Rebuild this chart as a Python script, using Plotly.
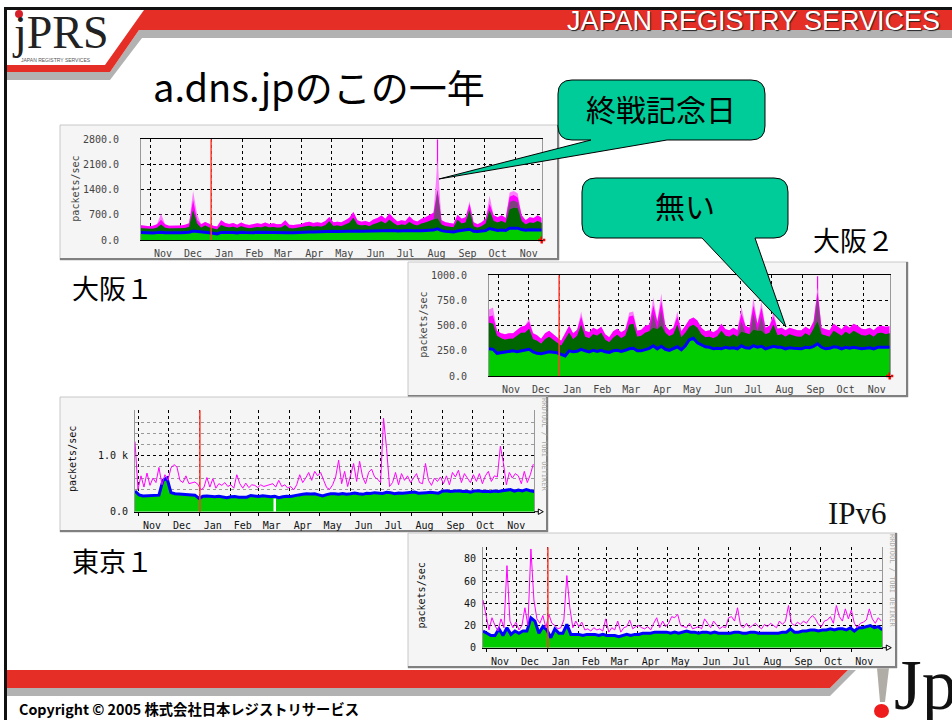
import pandas as pd
import plotly.graph_objects as go

# ---------- text ----------
MONTHS = ["Nov","Dec","Jan","Feb","Mar","Apr","May","Jun","Jul","Aug","Sep","Oct","Nov"]
MONTH_STARTS = ["2004-11-01","2004-12-01","2005-01-01","2005-02-01","2005-03-01","2005-04-01","2005-05-01",
                "2005-06-01","2005-07-01","2005-08-01","2005-09-01","2005-10-01","2005-11-01"]
MONTH_MIDS = ["2004-11-14","2004-12-14","2005-01-14","2005-02-13","2005-03-14","2005-04-14","2005-05-14",
              "2005-06-14","2005-07-14","2005-08-14","2005-09-14","2005-10-14","2005-11-14"]
YEAR_MARK = "2005-01-01"

# ---------- Osaka 1 ----------
O1_AVG = [210,200,190,195,205,215,200,195,195,205,205,210,215,250,235,210,205,200,190,170,
          210,215,205,210,195,215,210,200,205,215,215,220,210,215,205,210,225,205,200,210,
          215,220,225,225,230,225,240,250,240,235,240,250,255,265,250,245,250,245,260,265,
          270,265,275,265,250,260,255,265,255,245,255,265,270,275,310,260,240,230,220,250,
          265,270,300,245,235,250,260,320,285,265,280,265,330,340,330,290,270,285,280,290,280]
O1_UPPER = [330,315,310,315,340,430,340,320,315,325,325,335,360,830,460,340,400,350,310,290,
            420,370,350,370,335,380,345,325,340,360,345,380,345,360,340,345,420,330,320,340,
            345,380,395,370,385,370,410,520,390,400,385,430,480,620,430,400,415,385,440,470,
            520,460,560,470,400,430,415,500,430,400,460,490,540,570,600,430,385,370,355,560,
            460,490,830,385,340,385,460,830,530,490,530,470,850,900,880,530,430,490,475,530,475]
O1_MAGENTA = [410,395,385,395,440,560,440,395,395,410,405,425,465,1110,560,435,500,450,395,375,
              550,470,445,470,425,490,435,415,435,465,445,490,445,465,435,445,550,425,415,435,
              445,490,510,475,495,475,530,640,495,510,495,550,620,780,550,510,530,495,570,610,
              680,590,740,610,515,550,530,660,550,515,590,630,700,760,1390,550,495,475,455,700,
              590,630,1000,495,435,495,590,1000,690,630,690,610,1200,1250,1180,690,550,630,610,690,610]
O1_PINK_IDX = [5,13,14,74,82,87,92,93,94]
O1_PINK_VAL = [740,1360,720,2220,1080,1230,1320,1360,1300]
O1_PURPLE_IDX = [74,92,93,94]
O1_PURPLE_VAL = [1390,1060,1100,1040]
O1_SPIKE_IDX, O1_SPIKE_VAL = 74, 2800

# ---------- Osaka 2 ----------
O2_AVG = [270,265,225,230,235,240,250,240,250,255,265,240,225,220,230,240,235,230,215,200,
          250,240,245,265,250,240,255,245,255,240,235,250,255,245,255,270,275,250,250,265,
          275,300,270,295,265,255,270,290,260,300,360,375,330,310,290,285,270,275,270,285,
          275,280,270,300,280,275,300,285,295,270,285,295,285,285,270,280,275,270,270,285,
          280,295,320,285,270,275,290,285,270,285,275,285,280,270,275,280,270,285,285,285,285]
O2_UPPER = [530,520,400,375,360,370,370,400,430,430,470,365,350,320,365,390,360,335,300,365,
            430,365,400,510,390,375,415,400,430,360,335,380,410,375,400,510,520,390,400,430,
            445,480,465,500,430,395,415,510,385,430,490,510,480,415,385,390,375,395,450,400,
            390,415,390,440,430,415,460,450,450,415,430,510,405,415,390,415,400,390,390,425,
            400,465,540,415,400,390,450,425,400,440,415,450,430,405,400,415,390,425,430,415,425]
O2_MAGENTA = [590,600,450,425,415,425,425,455,490,500,540,425,405,370,425,450,415,385,350,425,
              500,425,460,590,450,435,480,460,490,415,385,445,470,435,460,590,600,450,460,500,
              510,700,540,740,500,455,480,590,445,500,560,580,550,480,445,455,435,460,520,465,
              455,480,455,620,500,480,700,520,680,480,500,590,470,480,455,480,465,455,455,490,
              465,540,840,480,465,455,520,490,465,510,480,520,500,470,465,480,455,490,500,490,495]
O2_PINK_IDX = [0,1,10,23,35,36,41,43,47,63,66,68,71,82]
O2_PINK_VAL = [660,680,570,640,630,640,780,820,640,690,780,740,640,880]
O2_PURPLE_IDX = [41,43,63,66,68,82]
O2_PURPLE_VAL = [620,650,540,620,590,790]
O2_SPIKE_IDX, O2_SPIKE_VAL = 82, 990

# ---------- Tokyo 1 ----------
T1_AVG = [370,300,280,285,285,285,295,560,600,340,320,315,310,310,305,295,240,275,280,270,
          265,275,265,250,265,270,260,255,260,290,285,270,285,280,265,275,250,265,275,270,
          290,300,310,320,315,320,300,280,305,320,320,310,325,310,320,335,320,310,330,325,
          340,335,325,345,340,320,335,330,340,345,350,330,330,340,345,335,330,365,375,360,
          365,375,360,365,350,370,375,360,365,355,370,360,375,380,395,365,385,370,395,375,360]
T1_MAX = [1250,400,640,440,690,470,600,520,790,480,660,560,780,840,800,560,520,640,500,520,
          530,490,390,430,610,440,590,420,500,470,520,450,480,420,660,500,420,510,430,480,
          470,430,480,450,470,490,500,440,560,450,480,420,450,390,480,660,520,600,700,560,
          720,640,700,560,430,400,480,620,920,500,720,450,640,860,540,900,620,500,700,760,
          620,580,520,1670,1130,450,520,700,480,680,560,640,520,600,680,520,500,860,560,470,
          600,540,620,500,640,480,700,620,740,520,680,600,520,660,540,680,500,640,720,540,
          640,620,1170,880,480,700,600,680,640,500,720,520,660,850]
T1_GAP_DATE, T1_GAP_TOP = "2005-03-17", 235

# ---------- IPv6 ----------
V6_AVG = [15,13,11,11,17,11,18,12,15,13,15,15,27,24,13,19,16,9,17,13,
          13,21,12,12,12,11,12,12,12,11,12,11,11,11,10,11,12,11,12,12,
          13,13,13,14,14,14,14,13,14,13,14,15,14,14,13,14,14,13,14,13,
          13,13,13,14,14,13,13,14,14,13,13,13,13,13,13,14,14,17,14,14,
          15,15,16,16,15,16,16,17,16,17,17,16,18,15,18,18,19,20,18,19,16]
V6_MAX = [43,28,16,27,20,15,26,18,74,24,18,23,16,20,36,20,89,43,26,22,
          29,18,30,22,20,17,18,25,65,36,18,24,19,23,16,17,15,18,16,17,
          15,26,14,18,16,24,14,18,19,25,17,19,20,18,17,19,16,22,27,18,
          24,19,22,28,27,30,20,19,18,22,17,18,19,17,26,22,18,24,20,17,
          19,18,27,28,24,36,20,18,22,18,20,22,19,17,21,19,22,20,18,24,
          21,24,38,22,20,23,21,24,22,26,29,26,21,19,24,25,28,22,38,28,
          24,35,26,34,22,18,22,23,25,35,26,22,27,24]

W, H = 952, 720
def X(p): return p / W
def Y(p): return 1 - p / H
def path(points, close=True):
    s = "M " + " L ".join(f"{X(a):.5f},{Y(b):.5f}" for a, b in points)
    return s + (" Z" if close else "")
def rounded_callout(x0, y0, x1, y1, r, tail):
    a, tip, b = tail
    P = lambda x, y: f"{X(x):.5f},{Y(y):.5f}"
    return (f"M {P(x0+r,y0)} L {P(x1-r,y0)} Q {P(x1,y0)} {P(x1,y0+r)} L {P(x1,y1-r)} Q {P(x1,y1)} {P(x1-r,y1)} "
            f"L {P(b,y1)} L {P(*tip)} L {P(a,y1)} L {P(x0+r,y1)} Q {P(x0,y1)} {P(x0,y1-r)} L {P(x0,y0+r)} Q {P(x0,y0)} {P(x0+r,y0)} Z")

RED, GRAY, TEAL = "#e52e26", "#b2b2b2", "#00cc99"
MONO = "DejaVu Sans Mono"
CJK = "Noto Sans CJK JP"

shapes, annos = [], []
def poly(points, fill, line=None, layer="below", width=1):
    shapes.append(dict(type="path", path=path(points), xref="paper", yref="paper", fillcolor=fill, layer=layer,
                       line=dict(color=line or fill, width=width if line else 0)))
def rect(x0, y0, x1, y1, fill, line=None, width=1, layer="below"):
    shapes.append(dict(type="rect", xref="paper", yref="paper", x0=X(x0), x1=X(x1), y0=Y(y0), y1=Y(y1),
                       fillcolor=fill, layer=layer, line=dict(color=line or fill, width=width if line else 0)))
def text(x, y, s, size, color="#000", family=CJK, xanchor="left", angle=0, **kw):
    annos.append(dict(x=X(x), y=Y(y), xref="paper", yref="paper", text=s, showarrow=False, xanchor=xanchor,
                      yanchor="middle", textangle=angle, font=dict(size=size, color=color, family=family, **kw)))

# ---------- slide furniture ----------
rect(0, 0, 952, 720, "#ffffff")
rect(4, 7, 7, 720, "#111111")
rect(4, 7, 952, 10, "#111111")
poly([(139,30),(952,30),(952,38),(142,38),(110,80),(7,80),(7,72),(110,72)], GRAY)
poly([(144,10),(952,10),(952,30),(139,30),(110,72),(7,72),(7,65),(105,65)], RED)
poly([(7,688),(830,688),(848,670),(856,670),(830,696),(7,696)], GRAY)
poly([(7,670),(848,670),(830,688),(7,688)], RED)

text(10, 33, "jPRS", 46, "#222222", "Liberation Serif")
shapes.append(dict(type="circle", xref="paper", yref="paper", x0=X(15), x1=X(23), y0=Y(10), y1=Y(18),
                   fillcolor="#d8202a", line=dict(width=0), layer="above"))
text(19, 60, "JAPAN REGISTRY SERVICES", 5, "#555555", "Liberation Sans")
text(942, 21, "JAPAN REGISTRY SERVICES", 27, "#ffffff", "Liberation Sans", xanchor="right",
     shadow="1px 1px 1px #222222")
text(151, 85, "a.dns.jpのこの一年", 38)
text(70, 287, "大阪１", 27)
text(811, 240, "大阪２", 27)
text(70, 560, "東京１", 27)
text(826, 513, "IPv6", 31, "#111111", "Liberation Serif")
text(17, 708, "Copyright © 2005 株式会社日本レジストリサービス", 14.3, weight=700)

# ---------- .jp mark ----------
poly([(877,668),(889,668),(885,702),(880,702)], "#b0aca6")
shapes.append(dict(type="circle", xref="paper", yref="paper", x0=X(874), x1=X(889), y0=Y(704), y1=Y(718),
                   fillcolor="#ee1c1c", line=dict(width=0), layer="below"))
text(892, 685, "Jp", 71, "#111111", "Liberation Serif")

# ---------- callouts ----------
shapes.append(dict(type="path", xref="paper", yref="paper", layer="above", fillcolor=TEAL, line=dict(color="#000", width=1),
                   path=rounded_callout(558, 80, 765, 140, 14, (591, (439,179), 667))))
text(661, 108, "終戦記念日", 30, xanchor="center")
shapes.append(dict(type="path", xref="paper", yref="paper", layer="above", fillcolor=TEAL, line=dict(color="#000", width=1),
                   path=rounded_callout(582, 178, 788, 238, 14, (702, (786,327), 755))))
text(685, 205, "無い", 30, xanchor="center")

# ---------- graph panels ----------
PANELS = [(60,125,559,260), (408,262,908,397), (60,397,548,532), (408,533,897,668)]
for x0, y0, x1, y1 in PANELS:
    rect(x0, y0, x1, y1, "#f5f5f5", "#c8c8c8", 1)
    rect(x0, y1-2, x1, y1, "#808080")
    rect(x1-2, y0, x1, y1, "#808080")

AREAS = [(141,139.3,541.7,240), (489,275.3,889.7,376), (135,410.3,534.3,511.7), (483,547.3,882.3,647.7)]
fig = go.Figure()
layout = {}
dates_a = list(pd.date_range("2004-10-23", periods=len(O1_AVG), freq="4D"))
dates_b = list(pd.date_range("2004-10-28", periods=len(T1_AVG), freq="4D"))
dates_c = list(pd.date_range("2004-10-28", periods=len(T1_MAX), freq="3D"))

def axes(n, area, xrange, yrange, tickvals, ticktext, standoff, y_minor=None, rrd=False):
    ax, ay = ("xaxis", "yaxis") if n == 1 else (f"xaxis{n}", f"yaxis{n}")
    x0, y0, x1, y1 = area
    layout[ax] = dict(domain=[X(x0), X(x1)], range=xrange, type="date", anchor=f"y{n if n>1 else ''}",
                      tickmode="array", tickvals=MONTH_MIDS, ticktext=MONTHS, ticks="", showgrid=False,
                      ticklabelstandoff=4, tickfont=dict(family=MONO, size=10, color="#111" if rrd else "#444"),
                      showline=True, linecolor="#000", linewidth=1, mirror=not rrd, zeroline=False,
                      minor=dict(tickmode="array", tickvals=MONTH_STARTS, showgrid=True, griddash="dot",
                                 gridcolor="#000", gridwidth=1, ticks="outside" if rrd else "", ticklen=3, tickcolor="#000"))
    layout[ay] = dict(domain=[Y(y1), Y(y0)], range=yrange, anchor=f"x{n if n>1 else ''}",
                      tickmode="array", tickvals=tickvals, ticktext=ticktext, ticks="", ticklabelstandoff=standoff,
                      tickfont=dict(family=MONO, size=10, color="#111" if rrd else "#444"),
                      showgrid=True, griddash="dot", gridcolor="#000", gridwidth=1, zeroline=False,
                      showline=True, linecolor="#999", linewidth=1, mirror=True)
    if y_minor:
        layout[ay]["minor"] = dict(dtick=y_minor, showgrid=True, griddash="dot", gridcolor="#999", gridwidth=1, ticks="")
    shapes.append(dict(type="line", xref=f"x{n if n>1 else ''}", yref=f"y{n if n>1 else ''} domain", x0=YEAR_MARK, x1=YEAR_MARK,
                       y0=0, y1=1, line=dict(color="#ff3b30", width=1.5), layer="above"))
    lab_x = x0 - 65 if not rrd else x0 - 62
    text(lab_x, (y0 + y1) / 2 - (1 if not rrd else 2), "packets/sec", 10, "#111" if rrd else "#444", MONO, xanchor="center", angle=-90)

def area(x, y, color, n, line_color=None, width=0):
    s = "" if n == 1 else str(n)
    fig.add_trace(go.Scatter(x=x, y=y, mode="lines", line=dict(color=line_color or color, width=width),
                             fill="tozeroy", fillcolor=color,
                             xaxis="x"+s, yaxis="y"+s, showlegend=False, hoverinfo="skip"))
def line(x, y, color, n, width):
    s = "" if n == 1 else str(n)
    fig.add_trace(go.Scatter(x=x, y=y, mode="lines", line=dict(color=color, width=width),
                             xaxis="x"+s, yaxis="y"+s, showlegend=False, hoverinfo="skip"))

def overridden(base, idx, vals):
    out = list(base)
    for i, v in zip(idx, vals):
        out[i] = v
    return out

def mrtg(n, avg, upper, magenta, pink_i, pink_v, purple_i, purple_v, spike_i, spike_v, dates):
    s = "" if n == 1 else str(n)
    line([dates[spike_i]]*2, [0, spike_v], "#ff00ff", n, 1.2)
    area(dates, overridden(magenta, pink_i, pink_v), "#ff80ff", n)
    area(dates, magenta, "#ff00ff", n)
    area(dates, overridden(upper, purple_i, purple_v), "#804080", n)
    area(dates, upper, "#006600", n)
    area(dates, avg, "#00cc00", n, "#0000ff", 3)
    fig.add_trace(go.Scatter(x=[dates[-1]], y=[0], mode="markers", marker=dict(symbol="cross", color="#ff0000", size=6),
                             cliponaxis=False, xaxis="x"+s, yaxis="y"+s, showlegend=False, hoverinfo="skip"))

def rrd(n, avg, maxv, dates_avg, dates_max):
    area(dates_avg, avg, "#00cc00", n, "#0000ff", 3)
    line(dates_max, maxv, "#ff00ff", n, 1)

axes(1, AREAS[0], ["2004-10-23","2005-11-27"], [0,2800], [0,700,1400,2100,2800], ["0.0","700.0","1400.0","2100.0","2800.0"], 19)
axes(2, AREAS[1], ["2004-10-23","2005-11-27"], [0,1000], [0,250,500,750,1000], ["0.0","250.0","500.0","750.0","1000.0"], 19)
axes(3, AREAS[2], ["2004-10-28","2005-12-02"], [0,1810], [0,1000], ["0.0","1.0 k"], 4, 200, True)
axes(4, AREAS[3], ["2004-10-28","2005-12-02"], [0,90.5], [0,20,40,60,80], ["0","20","40","60","80"], 4, 10, True)

mrtg(1, O1_AVG, O1_UPPER, O1_MAGENTA, O1_PINK_IDX, O1_PINK_VAL, O1_PURPLE_IDX, O1_PURPLE_VAL, O1_SPIKE_IDX, O1_SPIKE_VAL, dates_a)
mrtg(2, O2_AVG, O2_UPPER, O2_MAGENTA, O2_PINK_IDX, O2_PINK_VAL, O2_PURPLE_IDX, O2_PURPLE_VAL, O2_SPIKE_IDX, O2_SPIKE_VAL, dates_a)
rrd(3, T1_AVG, T1_MAX, dates_b, dates_c)
rrd(4, V6_AVG, V6_MAX, dates_b, dates_c)
shapes.append(dict(type="line", xref="x3", yref="y3", x0=T1_GAP_DATE, x1=T1_GAP_DATE, y0=0, y1=T1_GAP_TOP,
                   line=dict(color="#ffffff", width=2.5), layer="above"))

text(544, 445, "RRDTOOL / TOBI OETIKER", 7, "#aaaaaa", MONO, xanchor="center", angle=90)
text(892, 581, "RRDTOOL / TOBI OETIKER", 7, "#aaaaaa", MONO, xanchor="center", angle=90)
for (x0, y0, x1, y1) in (AREAS[2], AREAS[3]):
    shapes.append(dict(type="path", xref="paper", yref="paper", layer="above", fillcolor="#ffffff", line=dict(color="#000", width=1),
                       path=path([(x1+4, y1-2.7), (x1+9, y1), (x1+4, y1+2.7)])))
    shapes.append(dict(type="line", xref="paper", yref="paper", layer="above", x0=X(x1), x1=X(x1+4), y0=Y(y1), y1=Y(y1),
                       line=dict(color="#000", width=1)))

fig.update_layout(width=W, height=H, autosize=False, margin=dict(l=0, r=0, t=0, b=0, pad=0, autoexpand=False),
                  paper_bgcolor="#ffffff", plot_bgcolor="rgba(0,0,0,0)", showlegend=False,
                  shapes=shapes, annotations=annos, **layout)
fig.write_html("out.html", config={"displayModeBar": False},
               post_script="document.body.style.margin='0';document.body.style.overflow='hidden';")
